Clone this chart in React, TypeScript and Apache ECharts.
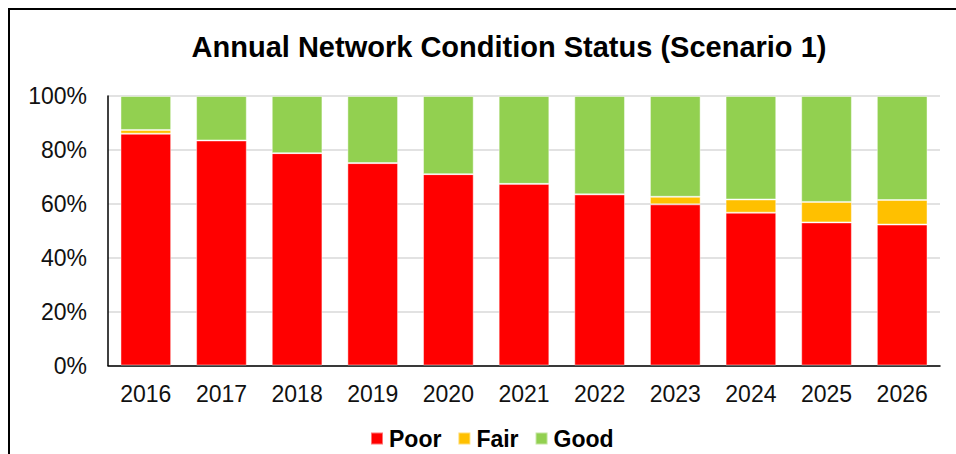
import React, { useEffect, useRef } from "react";
import * as echarts from "echarts";

const years = ["2016", "2017", "2018", "2019", "2020", "2021", "2022", "2023", "2024", "2025", "2026"];
const poor = [86.0, 83.5, 78.8, 75.1, 71.0, 67.4, 63.5, 59.8, 56.7, 53.1, 52.3];
const fair = [1.4, 0, 0, 0, 0, 0, 0, 2.8, 4.9, 7.6, 9.1];
const good = [12.6, 16.5, 21.2, 24.9, 29.0, 32.6, 36.5, 37.4, 38.4, 39.3, 38.6];
const yTicks = [0, 20, 40, 60, 80, 100];

const FONT = "'Liberation Sans', Arial, sans-serif";

export default function App() {
  const ref = useRef<HTMLDivElement>(null);
  useEffect(() => {
    if (!ref.current) return;
    const chart = echarts.init(ref.current, null, { renderer: "svg" });
    const mk = (name: string, data: number[], color: string) => ({
      name,
      type: "bar",
      stack: "total",
      data,
      barCategoryGap: "33%",
      itemStyle: { color, borderColor: "rgba(255,255,255,0.45)", borderWidth: 1 },
    });
    chart.setOption({
      animation: false,
      backgroundColor: "#ffffff",
      graphic: [
        {
          type: "rect",
          shape: { x: 9, y: 9, width: 1000, height: 1000 },
          style: { fill: "none", stroke: "#000", lineWidth: 2 },
          silent: true,
        },
        {
          type: "text",
          x: 509,
          y: 47,
          style: {
            text: "Annual Network Condition Status (Scenario 1)",
            font: `bold 29px ${FONT}`,
            fill: "#000",
            textAlign: "center",
            textVerticalAlign: "middle",
          },
        },
      ],
      legend: {
        left: 365,
        top: 422,
        itemWidth: 12,
        itemHeight: 12,
        itemGap: 16,
        icon: "rect",
        textStyle: { fontFamily: FONT, fontWeight: "bold", fontSize: 23, color: "#000", padding: [0, 0, 0, 1] },
        data: ["Poor", "Fair", "Good"],
      },
      grid: { left: 108, right: 16, top: 96, bottom: 88.5 },
      xAxis: {
        type: "category",
        data: years,
        axisLine: { lineStyle: { color: "#000", width: 1.5 } },
        axisTick: { show: false },
        axisLabel: { fontFamily: FONT, fontSize: 23, color: "#111", margin: 17 },
      },
      yAxis: {
        type: "value",
        min: yTicks[0],
        max: yTicks[yTicks.length - 1],
        interval: 20,
        axisLine: { show: true, lineStyle: { color: "#000", width: 1.5 } },
        axisTick: { show: false },
        splitLine: { lineStyle: { color: "#d9d9d9", width: 1.5 } },
        axisLabel: { fontFamily: FONT, fontSize: 23, color: "#111", margin: 21, formatter: "{value}%" },
      },
      series: [mk("Poor", poor, "#ff0000"), mk("Fair", fair, "#ffc000"), mk("Good", good, "#92d050")],
    });
    return () => chart.dispose();
  }, []);
  return (
    <div
      ref={ref}
      style={{ position: "absolute", left: 0, top: 0, width: 956, height: 454 }}
    />
  );
}
